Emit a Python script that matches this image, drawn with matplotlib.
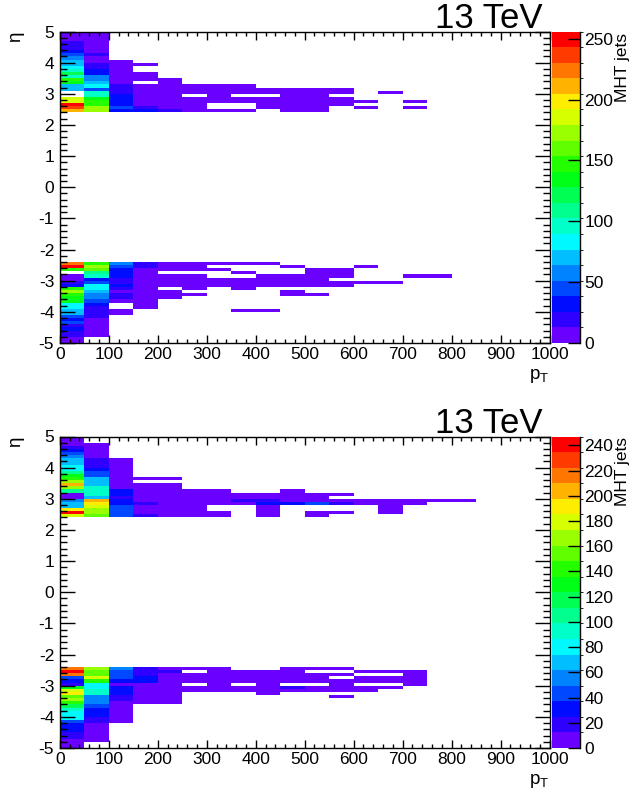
import numpy as np
import matplotlib
matplotlib.use("Agg")
import matplotlib.pyplot as plt
from matplotlib.colors import ListedColormap, BoundaryNorm, hsv_to_rgb
from matplotlib.ticker import MultipleLocator

plt.rcParams['font.family'] = ['Liberation Sans', 'DejaVu Sans']
plt.rcParams['axes.unicode_minus'] = False
plt.rcParams['mathtext.fontset'] = 'custom'
plt.rcParams['mathtext.rm'] = 'Liberation Sans'
plt.rcParams['mathtext.it'] = 'Liberation Sans:italic'

# binning: 50 GeV in pT, 0.1 in eta
pt_edges = np.arange(0, 900, 50)
eta_edges = np.round(np.linspace(-5.0, 5.0, 101), 2)

# MHT jets, upper pad. rows from eta 5.0 down to 2.4, columns pT 0-50, 50-100, ...
top_fwd = [
    [9, 7], [10, 8], [11, 9], [19, 10], [21, 8], [24, 11], [33, 10], [45, 17],
    [58, 11], [70, 12, 4], [72, 19, 6, 3], [84, 22, 7], [96, 31, 8],
    [120, 34, 9, 4], [97, 55, 10, 3], [148, 58, 10, 5, 3], [135, 70, 11, 0, 4],
    [70, 84, 19, 7, 5, 4, 3, 2],
    [68, 45, 20, 9, 6, 5, 4, 3, 3, 2, 2, 1],
    [0, 96, 22, 10, 7, 5, 4, 3, 2, 3, 2, 1, 0, 1],
    [0, 96, 30, 11, 8, 0, 5, 0, 0, 2, 2, 0],
    [186, 134, 33, 12, 9, 6, 5, 4, 3, 2, 2, 1],
    [190, 147, 35, 12, 9, 6, 5, 4, 3, 3, 2, 1, 1, 0, 1],
    [256, 147, 36, 11, 8, 6, 0, 0, 3, 2, 2, 1],
    [237, 170, 45, 20, 10, 6, 0, 0, 3, 2, 2, 0, 1, 0, 1],
    [211, 175, 33, 32, 18, 7, 5, 4, 0, 2, 1],
]
# rows from eta -2.4 down to -5.0
top_bwd = [
    [224, 148, 57, 20, 6, 5, 4, 3, 2],
    [245, 172, 45, 19, 5, 4, 0, 0, 0, 2, 0, 0, 1],
    [147, 158, 33, 9, 6, 4, 3, 0, 0, 0, 2, 1],
    [0, 108, 31, 8, 0, 0, 0, 3, 0, 0, 2, 1],
    [9, 95, 30, 8, 5, 4, 0, 0, 3, 2, 2, 1, 0, 0, 1, 1],
    [11, 31, 19, 9, 6, 5, 4, 3, 3, 2, 2],
    [20, 44, 18, 8, 7, 5, 4, 4, 3, 3, 2, 2, 1, 1],
    [33, 83, 32, 7, 5, 4, 3, 3, 2, 2, 2, 1],
    [150, 85, 20, 6, 0, 3, 0, 2],
    [172, 70, 10, 5, 4, 0, 0, 0, 0, 2],
    [145, 58, 19, 5, 3, 2, 0, 0, 0, 2, 1],
    [135, 56, 17, 4, 3], [130, 44, 8, 4], [84, 32, 0, 3], [82, 20, 0, 3],
    [70, 19, 6, 0, 0, 0, 0, 2, 1], [66, 18, 5], [45, 17], [33, 9], [44, 8],
    [20, 7], [31, 6], [22, 5], [19, 4], [10], [8],
]

# MHT jets, lower pad
bot_fwd = [
    [8], [9], [10, 8], [19, 9], [31, 10], [43, 9], [56, 11], [68, 19, 5],
    [70, 20, 6], [80, 21, 7], [82, 31, 8], [105, 43, 9], [130, 45, 10],
    [142, 68, 11, 4, 3], [167, 70, 12], [204, 72, 11, 5, 3], [165, 93, 12, 5, 4],
    [105, 95, 31, 6, 5, 4, 3, 0, 0, 2],
    [9, 96, 33, 7, 6, 5, 4, 3, 3, 3, 2, 2],
    [11, 70, 19, 7, 6, 5, 4, 3, 3, 2, 2],
    [56, 204, 32, 9, 8, 6, 5, 19, 20, 9, 8, 6, 5, 4, 3, 2, 2],
    [68, 191, 34, 20, 8, 7, 6, 5, 31, 32, 44, 19, 6, 4, 3],
    [70, 179, 45, 7, 6, 5, 0, 0, 3, 0, 0, 0, 0, 2],
    [191, 167, 46, 7, 5, 4, 0, 0, 3, 0, 0, 0, 0, 2],
    [247, 170, 44, 8, 6, 5, 4, 0, 3, 0, 2, 2, 0, 2],
    [179, 154, 47, 19, 8, 6, 4, 0, 3, 0, 2],
]
bot_bwd = [
    [216, 167, 56, 19, 7, 6, 5, 0, 0, 3, 2, 2],
    [240, 154, 43, 20, 19, 0, 5, 4, 3, 3, 0, 0, 2, 2, 1],
    [214, 156, 45, 21, 8, 7, 6, 5, 4, 3, 3, 2, 0, 0, 1],
    [43, 179, 44, 32, 8, 7, 6, 5, 4, 3, 2, 0, 2, 1, 1],
    [31, 142, 31, 31, 9, 7, 6, 5, 4, 3, 3, 2, 2, 2, 1],
    [19, 80, 9, 9, 7, 0, 5, 0, 3, 0, 0, 2, 0, 0, 1],
    [130, 82, 32, 9, 8, 6, 5, 4, 3, 19, 3, 2, 2, 1],
    [179, 93, 30, 8, 7, 5, 4, 4, 3, 3, 2, 2, 1],
    [191, 95, 33, 7, 5, 0, 0, 0, 2],
    [154, 56, 19, 6, 4, 0, 0, 0, 0, 0, 0, 2],
    [167, 58, 20, 5, 3], [142, 55, 10, 4, 3], [117, 43, 9], [93, 31, 8],
    [80, 32, 7], [82, 30, 6], [81, 19, 5], [43, 18, 4], [31, 10], [33, 9],
    [30, 8], [19, 7], [20, 6], [10, 5], [8], [7],
]

top_ticks = [0, 50, 100, 150, 200, 250]
bot_ticks = list(range(0, 241, 20))

# ROOT-like rainbow palette, 20 contours
hues = np.linspace(265, 0, 20) / 360.0
palette = ListedColormap(hsv_to_rgb(np.column_stack([hues, np.ones(20), np.ones(20)])))


def build(fwd, bwd):
    z = np.zeros((100, len(pt_edges) - 1))
    for k, row in enumerate(fwd):
        z[99 - k, :len(row)] = row
    for m, row in enumerate(bwd):
        z[25 - m, :len(row)] = row
    return np.ma.masked_equal(z, 0)


def draw_panel(fig, y_top, z, cticks):
    W, H = 635.0, 796.0
    ax = fig.add_axes([59.7 / W, 1 - (y_top + 311.5) / H, 490 / W, 311.5 / H])
    cax = fig.add_axes([552 / W, 1 - (y_top + 311.5) / H, 28 / W, 311.5 / H])
    zmax = z.max()
    norm = BoundaryNorm(np.linspace(0, zmax, 21), 20)
    mesh = ax.pcolormesh(pt_edges, eta_edges, z, cmap=palette, norm=norm)
    ax.set_xlim(0, 1000)
    ax.set_ylim(-5, 5)
    ax.xaxis.set_major_locator(MultipleLocator(100))
    ax.xaxis.set_minor_locator(MultipleLocator(20))
    ax.yaxis.set_major_locator(MultipleLocator(1))
    ax.yaxis.set_minor_locator(MultipleLocator(0.2))
    ax.tick_params(which='both', direction='in', top=True, right=True,
                   labelsize=12.5, width=1, colors='black')
    ax.tick_params(axis='x', which='major', length=6, pad=3)
    ax.tick_params(axis='x', which='minor', length=3)
    ax.tick_params(axis='y', which='major', length=10.5, pad=4)
    ax.tick_params(axis='y', which='minor', length=5)
    for s in ax.spines.values():
        s.set_linewidth(1)
    ax.text(1.0, -0.105, r'$\mathrm{p_{T}}$', transform=ax.transAxes,
            ha='right', va='center', fontsize=13.5)
    ax.text(-0.09, 1.0, 'η', transform=ax.transAxes, rotation=90,
            ha='center', va='top', fontsize=13.5)
    ax.text(0.986, 1.012, '13 TeV', transform=ax.transAxes,
            ha='right', va='baseline', fontsize=25)

    cb = fig.colorbar(mesh, cax=cax, ticks=cticks)
    cb.outline.set_visible(False)
    cax.tick_params(direction='in', length=9, width=1, labelsize=12.5, pad=3)
    cax.plot([1, 1], [0, 1], transform=cax.transAxes, color='black', lw=1,
             clip_on=False)
    fig.text(622 / W, 1 - (y_top + 1) / H, 'MHT jets', rotation=90,
             ha='center', va='top', fontsize=12.5)
    return ax


fig = plt.figure(figsize=(6.35, 7.96), dpi=100)
draw_panel(fig, 31.5, build(top_fwd, top_bwd), top_ticks)
draw_panel(fig, 436.5, build(bot_fwd, bot_bwd), bot_ticks)
fig.savefig('out.png', dpi=100)
